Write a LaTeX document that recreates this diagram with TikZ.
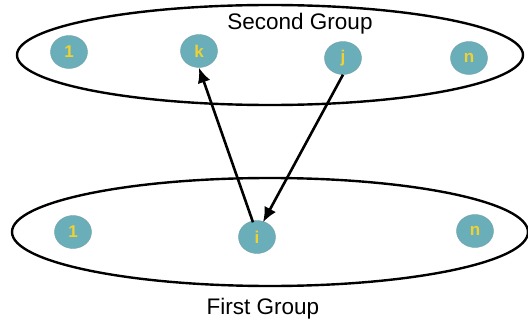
\documentclass[tikz,border=0pt]{standalone}
\usepackage{fontspec}
\setmainfont{Liberation Sans}
\usetikzlibrary{arrows.meta,shapes.geometric}

\definecolor{member}{HTML}{6AAEBA}
\definecolor{memberlabel}{HTML}{EFD232}

\tikzset{
  member/.style={ellipse,fill=member,draw=member!70!gray,line width=0.4pt,
    minimum width=37pt,minimum height=33pt,inner sep=0pt,
    text=memberlabel,font=\fontsize{17}{17}\selectfont\bfseries},
  link/.style={line width=2.6pt,-{Latex[length=15pt,width=13pt]}},
  group/.style={line width=2.4pt}
}

\begin{document}
\begin{tikzpicture}[x=1pt,y=-1pt]
\useasboundingbox (0,0) rectangle (528,324);

% the two groups
\draw[group] (270,55) ellipse (253 and 50);
\draw[group] (270,232) ellipse (258 and 54);
\node[font=\fontsize{22.5}{22.5}\selectfont] (second) at (300,24) {Second Group};
\node[font=\fontsize{22.5}{22.5}\selectfont] (first) at (263,309) {First Group};

% members of the second group
\node[member] (s1) at (69,52) {1};
\node[member] (sk) at (199,51) {k};
\node[member] (sj) at (343,58) {j};
\node[member] (sn) at (469,58) {n};

% members of the first group
\node[member] (f1) at (73,232) {1};
\node[member] (fi) at (257,237) {i};
\node[member] (fn) at (475,231) {n};

\draw[link] ([xshift=-4pt,yshift=-2pt]fi.north) -- (sk.south);
\draw[link] (sj.south) -- ([xshift=6pt,yshift=-2pt]fi.north);

\end{tikzpicture}
\end{document}
